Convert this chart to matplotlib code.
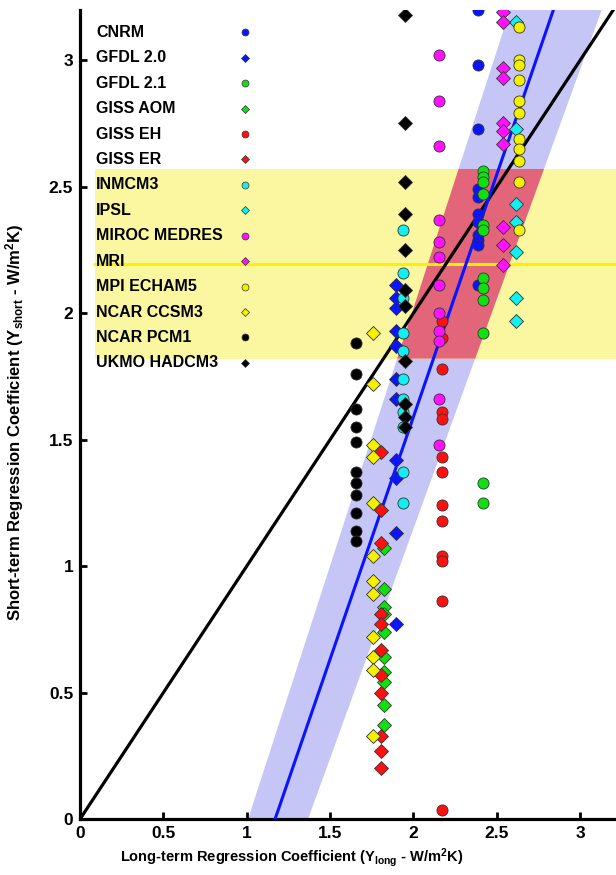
import matplotlib.pyplot as plt
import numpy as np

plt.rcParams['font.family'] = ['Liberation Sans', 'DejaVu Sans']
plt.rcParams['font.weight'] = 'bold'
plt.rcParams['mathtext.fontset'] = 'custom'
plt.rcParams['mathtext.rm'] = 'Liberation Sans:bold'
plt.rcParams['mathtext.it'] = 'Liberation Sans:bold'
plt.rcParams['mathtext.bf'] = 'Liberation Sans:bold'

# model name, long-term x, marker, colour, short-term values
models = ['CNRM', 'GFDL 2.0', 'GFDL 2.1', 'GISS AOM', 'GISS EH', 'GISS ER',
          'INMCM3', 'IPSL', 'MIROC MEDRES', 'MRI', 'MPI ECHAM5', 'NCAR CCSM3',
          'NCAR PCM1', 'UKMO HADCM3']
markers = ['o', 'D', 'o', 'D', 'o', 'D', 'o', 'D', 'o', 'D', 'o', 'D', 'o', 'D']
colors = ['#0a14ff', '#0a14ff', '#10e010', '#10e010', '#ff1010', '#ff1010',
          '#10f0f0', '#10f0f0', '#ff10ff', '#ff10ff', '#f5f000', '#f5f000',
          '#000000', '#000000']
long_term = [2.39, 1.896, 2.42, 1.824, 2.17, 1.806, 1.938, 2.615, 2.154, 2.54,
             2.633, 1.758, 1.656, 1.95]

cnrm = [3.20, 2.98, 2.73, 2.49, 2.46, 2.39, 2.36, 2.31, 2.29, 2.27, 2.11]
gfdl20 = [2.11, 2.06, 2.02, 1.93, 1.87, 1.74, 1.66, 1.42, 1.35, 1.13, 0.77]
gfdl21 = [2.56, 2.54, 2.52, 2.47, 2.35, 2.33, 2.14, 2.10, 2.05, 1.92, 1.33, 1.25]
giss_aom = [1.07, 0.91, 0.84, 0.81, 0.74, 0.64, 0.58, 0.54, 0.45, 0.37]
giss_eh = [1.97, 1.90, 1.78, 1.61, 1.58, 1.43, 1.37, 1.24, 1.18, 1.04, 1.02,
           0.86, 0.035]
giss_er = [1.45, 1.22, 1.09, 0.81, 0.77, 0.67, 0.57, 0.50, 0.33, 0.27, 0.20]
inmcm3 = [2.33, 2.16, 2.06, 1.92, 1.85, 1.74, 1.66, 1.61, 1.55, 1.37, 1.25]
ipsl = [3.15, 2.73, 2.43, 2.36, 2.24, 2.06, 1.97]
miroc = [3.02, 2.84, 2.66, 2.37, 2.28, 2.22, 2.11, 2.00, 1.93, 1.89, 1.66, 1.48]
mri = [3.19, 3.15, 2.97, 2.93, 2.75, 2.72, 2.67, 2.34, 2.27, 2.19]
mpi = [3.13, 3.00, 2.98, 2.92, 2.84, 2.79, 2.69, 2.65, 2.60, 2.52, 2.33]
ccsm3 = [1.92, 1.72, 1.48, 1.43, 1.25, 1.04, 0.94, 0.89, 0.72, 0.64, 0.59, 0.33]
pcm1 = [1.88, 1.76, 1.62, 1.55, 1.49, 1.37, 1.33, 1.28, 1.21, 1.14, 1.10]
ukmo = [3.18, 2.75, 2.52, 2.39, 2.25, 2.09, 2.03, 1.81, 1.64, 1.59, 1.55]
short_term = [cnrm, gfdl20, gfdl21, giss_aom, giss_eh, giss_er, inmcm3, ipsl,
              miroc, mri, mpi, ccsm3, pcm1, ukmo]

# observational range (yellow) and best estimate
obs_low, obs_high, obs_best = 1.82, 2.57, 2.196
# fit line and its uncertainty band: x at y=0 and y=3.2
fit_x = [1.17, 2.84]
band_left = [1.008, 2.58]
band_right = [1.368, 3.13]
y_ends = [0.0, 3.2]

fig = plt.figure(figsize=(6.16, 8.75), dpi=100)
ax = fig.add_axes([0.13, 0.064, 0.87, 0.925])

def edge_x(xs, y):
    return np.interp(y, y_ends, xs)

# blue band
ax.fill([band_left[0], band_right[0], band_right[1], band_left[1]],
        [y_ends[0], y_ends[0], y_ends[1], y_ends[1]],
        color='#c6c6f6', lw=0, zorder=1)
# yellow observational band
ax.fill_between([0.09, 3.25], obs_low, obs_high, color='#fbf7a0', lw=0, zorder=2)
# red overlap
ax.fill([edge_x(band_left, obs_low), edge_x(band_right, obs_low),
         edge_x(band_right, obs_high), edge_x(band_left, obs_high)],
        [obs_low, obs_low, obs_high, obs_high], color='#e2657a', lw=0, zorder=3)
ax.plot([0.09, 3.25], [obs_best, obs_best], color='#fff000', lw=2.2, zorder=4)

ax.plot([0, 3.25], [0, 3.25], color='black', lw=2.3, zorder=5)
ax.plot(fit_x, y_ends, color='#0a14ff', lw=2.2, zorder=5)

for i in range(len(models)):
    ys = short_term[i]
    xs = [long_term[i]] * len(ys)
    ms = 8 if markers[i] == 'o' else 7.5
    ax.plot(xs, ys, linestyle='none', marker=markers[i], ms=ms,
            markerfacecolor=colors[i], markeredgecolor='#333333', mew=0.6,
            zorder=6)

# legend inside the plot
for i, name in enumerate(models):
    yy = 3.11 - 0.1005 * i
    ax.text(0.095, yy, name, fontsize=11.5, fontweight='bold', va='center',
            ha='left', zorder=8)
    ms = 5 if markers[i] == 'o' else 4.5
    ax.plot(0.99, yy, linestyle='none', marker=markers[i], ms=ms,
            markerfacecolor=colors[i], markeredgecolor='#333333', mew=0.5,
            zorder=8)

ax.set_xlim(0, 3.215)
ax.set_ylim(0, 3.2)
ticks = [0, 0.5, 1, 1.5, 2, 2.5, 3]
tick_labels = ['0', '0.5', '1', '1.5', '2', '2.5', '3']
ax.set_xticks(ticks)
ax.set_xticklabels(tick_labels)
ax.set_yticks(ticks)
ax.set_yticklabels(tick_labels)
ax.spines['top'].set_visible(False)
ax.spines['right'].set_visible(False)
ax.spines['left'].set_linewidth(2.3)
ax.spines['bottom'].set_linewidth(2.3)
ax.tick_params(direction='in', length=5, width=2, labelsize=12.5, pad=5)
for lab in ax.get_xticklabels() + ax.get_yticklabels():
    lab.set_fontweight('bold')

ax.set_xlabel(r'Long-term Regression Coefficient (Y$_{\mathrm{long}}$ - W/m$^{\mathrm{2}}$K)',
              fontsize=10.5, fontweight='bold')
ax.xaxis.set_label_coords(0.395, -0.034)
ax.set_ylabel(r'Short-term Regression Coefficient (Y$_{\mathrm{short}}$ - W/m$^{\mathrm{2}}$K)',
              fontsize=12, fontweight='bold')
ax.yaxis.set_label_coords(-0.1, 0.49)

fig.savefig('out.png', dpi=100)
